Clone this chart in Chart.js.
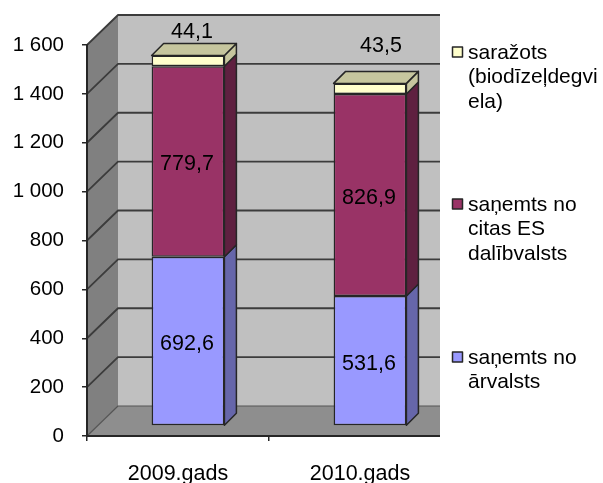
<!DOCTYPE html>
<html>
<head>
<meta charset="utf-8">
<style>
  html, body { margin: 0; background: #fff; }
  canvas { display: block; filter: blur(0.4px); }
</style>
<script src="https://cdn.jsdelivr.net/npm/chart.js@4/dist/chart.umd.min.js"></script>
</head>
<body>
<canvas id="chart" width="603" height="483"></canvas>
<script>
const categories = ['2009.gads', '2010.gads'];
const arvalstsValues = [692.6, 531.6];
const esValues = [779.7, 826.9];
const razotsValues = [44.1, 43.5];
const yTickLabels = ['0', '200', '400', '600', '800', '1 000', '1 200', '1 400', '1 600'];
const legendLines = [
  ['saražots', '(biodīzeļdegvi', 'ela)'],
  ['saņemts no', 'citas ES', 'dalībvalsts'],
  ['saņemts no', 'ārvalsts']
];

const font = 'Liberation Sans, Arial, sans-serif';
const wallDx = 31, wallDy = 30;   // depth of the fake 3D box
const barDx = 10, barDy = 10;     // bars stand part way into the box
const depthX = 12, depthY = 12;   // depth of each bar
const plotRight = 440;
const dark = '#262626';

function poly(ctx, pts, fill, stroke, lw) {
  ctx.beginPath();
  pts.forEach((p, i) => i ? ctx.lineTo(p[0], p[1]) : ctx.moveTo(p[0], p[1]));
  ctx.closePath();
  if (fill) { ctx.fillStyle = fill; ctx.fill(); }
  if (stroke) { ctx.strokeStyle = stroke; ctx.lineWidth = lw; ctx.stroke(); }
}

// back wall, side wall, floor and gridlines, behind the axes
const boxPlugin = {
  id: 'box',
  beforeDraw(chart) {
    const ctx = chart.ctx, y = chart.scales.y, a = chart.chartArea;
    const top = y.getPixelForValue(1600), bot = y.getPixelForValue(0), l = a.left;
    poly(ctx, [[l + wallDx, top - wallDy], [plotRight, top - wallDy], [plotRight, bot - wallDy], [l + wallDx, bot - wallDy]], '#c0c0c0');
    poly(ctx, [[l, top], [l + wallDx, top - wallDy], [l + wallDx, bot - wallDy], [l, bot]], '#808080');
    poly(ctx, [[l, bot], [l + wallDx, bot - wallDy], [plotRight, bot - wallDy], [plotRight, bot]], '#8e8e8e');
    ctx.lineJoin = 'round';
    y.ticks.forEach(t => {
      const py = y.getPixelForValue(t.value);
      ctx.beginPath();
      ctx.moveTo(l, py);
      ctx.lineTo(l + wallDx, py - wallDy);
      ctx.lineTo(plotRight, py - wallDy);
      ctx.strokeStyle = t.value === 0 ? '#555' : '#3c3c3c';
      ctx.lineWidth = t.value === 0 ? 1.2 : 1.8;
      ctx.stroke();
    });
  },
  beforeDatasetsDraw(chart) {
    const ctx = chart.ctx;
    ctx.save();
    ctx.translate(barDx, -barDy);
    // side and top faces, worked out from the bar elements
    chart.data.datasets.forEach((ds, di) => {
      chart.getDatasetMeta(di).data.forEach(bar => {
        const p = bar.getProps(['x', 'y', 'base', 'width'], true);
        const r = p.x + p.width / 2, lft = p.x - p.width / 2;
        poly(ctx, [[r, p.y], [r + depthX, p.y - depthY], [r + depthX, p.base - depthY], [r, p.base]], ds.sideColor, dark, 1.5);
        if (di === chart.data.datasets.length - 1) {
          poly(ctx, [[lft, p.y], [lft + depthX, p.y - depthY], [r + depthX, p.y - depthY], [r, p.y]], ds.sideColor, dark, 1.5);
        }
      });
    });
  },
  afterDatasetsDraw(chart) {
    chart.ctx.restore();
  },
  afterDraw(chart) {
    const ctx = chart.ctx;
    // plot is cut off short of the legend
    ctx.fillStyle = '#fff';
    ctx.fillRect(plotRight, 0, 603 - plotRight, 483);

    ctx.fillStyle = '#000';
    ctx.font = '21.5px ' + font;
    ctx.textAlign = 'center';
    ctx.textBaseline = 'middle';
    chart.data.datasets.forEach((ds, di) => {
      chart.getDatasetMeta(di).data.forEach((bar, i) => {
        const p = bar.getProps(['x', 'y', 'base'], true);
        const txt = ds.data[i].toFixed(1).replace('.', ',');
        let ly = (p.y + p.base) / 2 - barDy + 3;
        let lx = p.x + barDx - 1;
        // the top labels were moved by hand in the original
        if (ds.labelShift) { lx += ds.labelShift[i][0]; ly = p.y - barDy + ds.labelShift[i][1]; }
        ctx.fillText(txt, lx, ly);
      });
    });

    // legend, wrapped the way the original wraps it
    const tops = [52, 204, 357];
    const swatches = ['#ffffcc', '#993366', '#9999ff'];
    ctx.textAlign = 'left';
    ctx.font = '21px ' + font;
    legendLines.forEach((lines, i) => {
      ctx.fillStyle = swatches[i];
      ctx.strokeStyle = dark;
      ctx.lineWidth = 1.5;
      ctx.fillRect(452.5, tops[i] - 5, 10, 10);
      ctx.strokeRect(452.5, tops[i] - 5, 10, 10);
      ctx.fillStyle = '#000';
      lines.forEach((s, j) => ctx.fillText(s, 468, tops[i] + 1 + j * 24.5));
    });
  }
};

new Chart(document.getElementById('chart'), {
  type: 'bar',
  data: {
    labels: categories,
    datasets: [
      { label: 'saņemts no ārvalsts', data: arvalstsValues, backgroundColor: '#9999ff', sideColor: '#6666aa' },
      { label: 'saņemts no citas ES dalībvalsts', data: esValues, backgroundColor: '#993366', sideColor: '#5f2040' },
      { label: 'saražots (biodīzeļdegviela)', data: razotsValues, backgroundColor: '#ffffcc', sideColor: '#c6c69e', labelShift: [[5, -23], [12, -37]] }
    ].map(d => Object.assign(d, { borderColor: dark, borderWidth: 1.5, borderSkipped: false, clip: false }))
  },
  options: {
    responsive: false,
    animation: false,
    layout: { padding: { top: 45, right: 152, left: 0, bottom: 0 } },
    categoryPercentage: 1,
    barPercentage: 0.4,
    plugins: { legend: { display: false }, tooltip: { enabled: false } },
    scales: {
      x: {
        stacked: true,
        afterFit: s => { s.height = 47; },
        grid: { drawOnChartArea: false, color: dark, tickLength: 5, lineWidth: 1.5 },
        border: { color: dark, width: 2 },
        ticks: { color: '#000', font: { family: font, size: 21.5 }, padding: 20, maxRotation: 0 }
      },
      y: {
        stacked: true,
        min: 0,
        max: 1600,
        afterFit: s => { s.width = 87; },
        grid: { drawOnChartArea: false, color: dark, tickLength: 5, lineWidth: 1.5 },
        border: { color: dark, width: 2 },
        ticks: {
          stepSize: 200,
          color: '#000',
          font: { family: font, size: 20.5 },
          padding: 18,
          callback: (v, i) => yTickLabels[i]
        }
      }
    }
  },
  plugins: [boxPlugin]
});
</script>
</body>
</html>
